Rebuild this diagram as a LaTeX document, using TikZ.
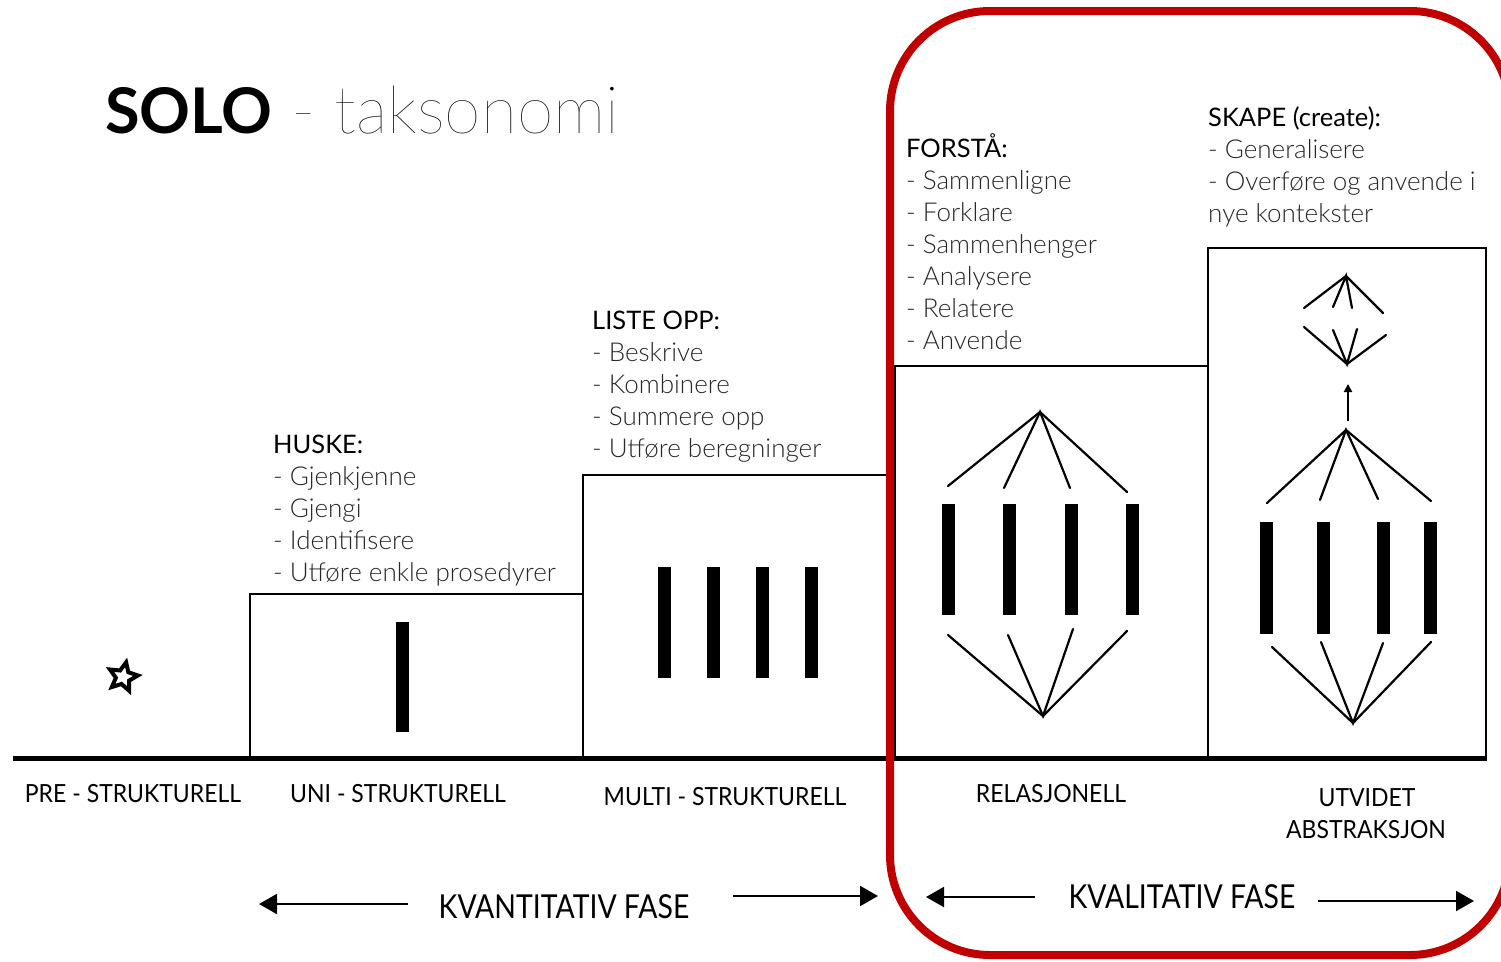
\documentclass[tikz,border=0pt]{standalone}
\usepackage{fontspec}
\setmainfont{Lato}
\newfontfamily\lightf{Lato Light}
\newfontfamily\thinf{Lato Hairline}
\newfontfamily\condf{Lato}[FakeStretch=0.92]
\newfontfamily\phasef{Lato}[FakeStretch=0.86]
\usetikzlibrary{arrows.meta,shapes.geometric}
\definecolor{redc}{RGB}{192,0,0}
\definecolor{txt}{RGB}{40,40,40}
\tikzset{
  box/.style={draw=black,line width=2pt},
  fan/.style={line width=2.2pt,line cap=round},
  barr/.style={fill=black},
  lst/.style={anchor=base west,inner sep=0pt,text=txt,font=\lightf\fontsize{26}{26}\selectfont},
  hdr/.style={anchor=base west,inner sep=0pt,text=black,font=\fontsize{25.5}{26}\selectfont},
  lab/.style={anchor=base,inner sep=0pt,text=black,font=\condf\fontsize{25}{25}\selectfont},
  phase/.style={anchor=base,inner sep=0pt,text=black,font=\phasef\fontsize{33}{33}\selectfont},
  parr/.style={line width=2pt,-{Triangle[length=18pt,width=20pt]}},
}
\begin{document}
\begin{tikzpicture}[x=1pt,y=-1pt]
\useasboundingbox (0,0) rectangle (1501,961);
\clip (0,0) rectangle (1501,961);
\fill[white] (0,0) rectangle (1501,961);

% title
\node[anchor=base west,inner sep=0pt] (title) at (105,133)
  {\fontsize{63}{63}\selectfont\bfseries SOLO\thinf\mdseries\fontsize{66}{66}\selectfont{} - taksonomi};

% boxes
\draw[box] (250,758) -- (250,594) -- (583,594) -- (583,758);
\draw[box] (583,594) -- (583,475) -- (888,475) -- (888,758);
\draw[box] (895,758) -- (895,366) -- (1208,366) -- (1208,758);
\draw[box] (1208,366) -- (1208,248) -- (1486,248) -- (1486,758);

% base line
\draw[line width=5pt] (13,758) -- (1487,758);

% pre-structural star
\node[star,star points=5,star point ratio=2.1,draw=black,line width=4pt,fill=white,
  minimum size=30pt,inner sep=0pt,rotate=-12] (star) at (123,677) {};

% uni bar
\fill[barr] (396,622) rectangle (409,732);

% multi bars
\foreach \x in {658,707,756,805}
  \fill[barr] (\x,567) rectangle (\x+13,678);

% relational
\foreach \x in {942,1003,1065,1126}
  \fill[barr] (\x,504) rectangle (\x+13,615);
\coordinate (rt) at (1040,412);
\coordinate (rb) at (1043,716);
\draw[fan] (948,486) -- (rt) -- (1127,492);
\draw[fan] (1004,488) -- (rt) -- (1070,488);
\draw[fan] (948,635) -- (rb) -- (1127,631);
\draw[fan] (1008,635) -- (rb) -- (1073,629);

% extended abstract
\foreach \x in {1260,1317,1377,1424}
  \fill[barr] (\x,522) rectangle (\x+13,634);
\coordinate (et) at (1346,430);
\coordinate (eb) at (1353,723);
\draw[fan] (1267,503) -- (et) -- (1431,501);
\draw[fan] (1320,500) -- (et) -- (1378,499);
\draw[fan] (1272,647) -- (eb) -- (1431,642);
\draw[fan] (1321,642) -- (eb) -- (1383,643);
\coordinate (ea1) at (1348,421);
\coordinate (ea2) at (1348,384);
\draw[line width=2.4pt,-{Triangle[length=8pt,width=8pt]}] (ea1) -- (ea2);
\coordinate (st) at (1346,276);
\coordinate (sb) at (1347,364);
\draw[fan] (1304,308) -- (st) -- (1383,313);
\draw[fan] (1333,307) -- (st) -- (1352,308);
\draw[fan] (1304,327) -- (sb) -- (1386,335);
\draw[fan] (1333,330) -- (sb) -- (1357,329);

% text blocks
\node[hdr] (huske) at (273,453) {HUSKE:};
\foreach \t [count=\i] in {Gjenkjenne,Gjengi,Identifisere,Utføre enkle prosedyrer}
  \node[lst] (huske\i) at (273,453+32*\i) {- \t};

\node[hdr] (liste) at (592,329) {LISTE OPP:};
\foreach \t [count=\i] in {Beskrive,Kombinere,Summere opp,Utføre beregninger}
  \node[lst] (liste\i) at (592,329+32*\i) {- \t};

\node[hdr] (forsta) at (906,157) {FORSTÅ:};
\foreach \t [count=\i] in {Sammenligne,Forklare,Sammenhenger,Analysere,Relatere,Anvende}
  \node[lst] (forsta\i) at (906,157+32*\i) {- \t};

\node[hdr] (skape) at (1208,126) {SKAPE (create):};
\node[lst] (skape1) at (1208,158) {- Generalisere};
\node[lst] (skape2) at (1208,190) {- Overføre og anvende i};
\node[lst] (skape3) at (1208,222) {nye kontekster};

% level labels
\node[lab] (pre) at (133,802) {PRE - STRUKTURELL};
\node[lab] (uni) at (398,802) {UNI - STRUKTURELL};
\node[lab] (multi) at (725,805) {MULTI - STRUKTURELL};
\node[lab] (rel) at (1051,802) {RELASJONELL};
\node[lab] (utv) at (1367,806) {UTVIDET};
\node[lab] (abs) at (1366,838) {ABSTRAKSJON};

% phases
\node[phase] (kvant) at (564,918) {KVANTITATIV FASE};
\coordinate (k1a) at (408,904);
\coordinate (k1b) at (259,904);
\coordinate (k2a) at (733,896);
\coordinate (k2b) at (878,896);
\draw[parr] (k1a) -- (k1b);
\draw[parr] (k2a) -- (k2b);

\node[phase] (kval) at (1182,908) {KVALITATIV FASE};
\coordinate (q1a) at (1035,897);
\coordinate (q1b) at (926,897);
\coordinate (q2a) at (1318,901);
\coordinate (q2b) at (1474,901);
\draw[parr] (q1a) -- (q1b);
\draw[parr] (q2a) -- (q2b);

% red frame
\draw[redc,line width=8pt,rounded corners=100pt] (890,11) rectangle (1510,955);
\end{tikzpicture}
\end{document}
